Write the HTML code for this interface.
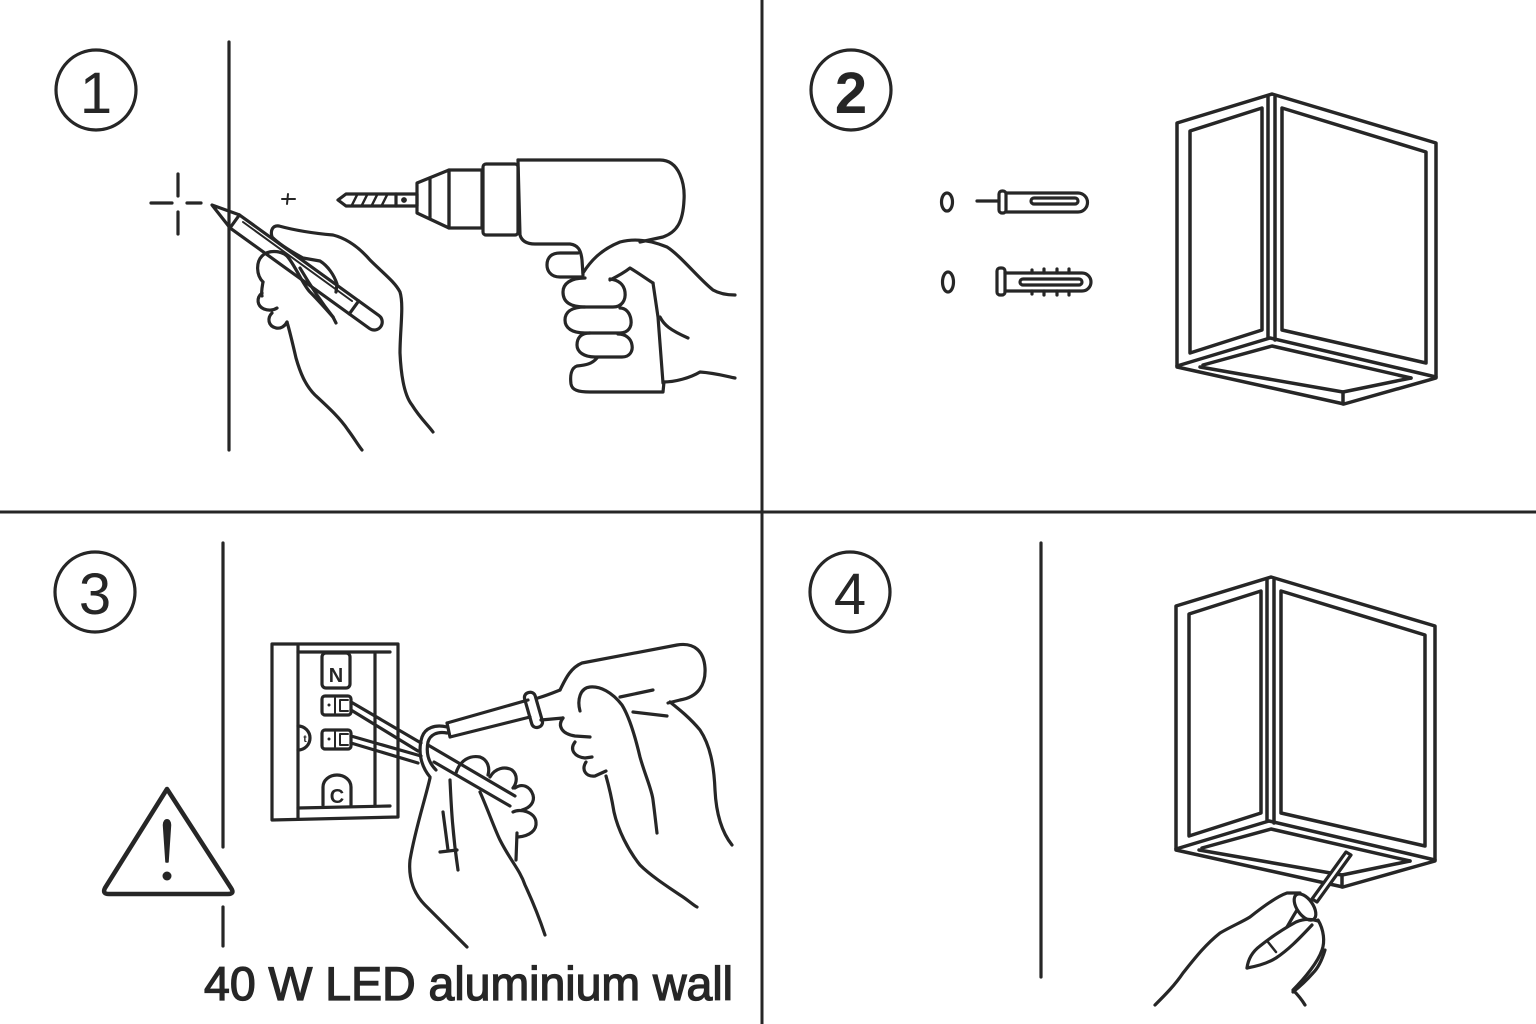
<!DOCTYPE html>
<html>
<head>
<meta charset="utf-8">
<style>
html,body{margin:0;padding:0;background:#fff;}
svg{display:block;}
</style>
</head>
<body>
<svg width="1536" height="1024" viewBox="0 0 1536 1024" xmlns="http://www.w3.org/2000/svg">
<rect width="1536" height="1024" fill="#fff"/>
<g fill="none" stroke="#262626" stroke-width="3.2" stroke-linecap="round" stroke-linejoin="round">
  <!-- grid -->
  <line x1="762" y1="0" x2="762" y2="1024" stroke-width="3"/>
  <line x1="0" y1="512" x2="1536" y2="512" stroke-width="3"/>

  <!-- number circles -->
  <circle cx="96" cy="90" r="40"/>
  <circle cx="851" cy="90" r="40"/>
  <circle cx="95" cy="592" r="40"/>
  <circle cx="850" cy="592" r="40"/>

  <!-- ================= PANEL 1 ================= -->
  <line x1="229" y1="42" x2="229" y2="450"/>
  <!-- crosshair -->
  <line x1="151" y1="203" x2="172" y2="203"/>
  <line x1="187" y1="203" x2="201" y2="203"/>
  <line x1="178" y1="174" x2="178" y2="196"/>
  <line x1="178" y1="212" x2="178" y2="234"/>
  <!-- small plus -->
  <line x1="282" y1="199" x2="295" y2="199" stroke-width="2"/>
  <line x1="288" y1="194" x2="287" y2="204" stroke-width="2"/>

  <!-- pencil -->
  <path d="M212,205 L239.4,214.9 L378.9,315.5 A8,8 0 0 1 369.5,328.5 L230,227.9 Z"/>
  <path d="M239.4,214.9 L230,227.9"/>
  <path d="M358.7,300.9 L349.3,313.9"/>
  <path d="M243,222 L352,301" stroke-width="2"/>
  <!-- pencil hand -->
  <path d="M272,237 C270,230 273,225 279,226 C290,229 310,233 333,235 C345,238 357,245 370,260 C383,273 395,282 400,292 C404,305 400,330 400,353 C401,375 404,395 412,405 C420,418 428,425 433,432"/>
  <path d="M272,237 C280,245 292,252 303,258 L320,261 C328,266 334,275 337,284 L336,292"/>
  <path d="M300,268 C310,285 322,303 333,317 L336,323"/>
  <path d="M263,282 C256,275 256,262 262,256 C268,250 280,250 287,256 C295,265 303,285 310,292 C318,300 325,308 333,317"/>
  <path d="M263,282 C262,288 261,292 262,296"/>
  <path d="M262,293 C256,298 257,306 264,309 C269,311 274,310 277,308"/>
  <path d="M272,313 C267,318 268,326 276,328 C281,329 285,326 287,322"/>
  <path d="M287,322 C290,332 293,345 296,358 C300,372 305,385 315,395 C328,407 340,418 348,430 C354,438 358,445 362,450"/>

  <!-- drill -->
  <path d="M338,200 L346,194 L417,194 L417,206 L346,206 Z"/>
  <path d="M352,205 L357,195 M362,205 L367,195 M372,205 L377,195 M382,205 L387,195" stroke-width="2.5"/>
  <line x1="396" y1="194" x2="396" y2="206"/>
  <circle cx="404" cy="200" r="1.3" fill="#262626"/>
  <path d="M417,183 L449,170 L449,228 L417,213 Z"/>
  <line x1="430" y1="178" x2="430" y2="218"/>
  <rect x="449" y="170" width="33" height="58"/>
  <rect x="483" y="164" width="35" height="71" rx="3"/>
  <path d="M518,160 L660,160 C680,160 685,185 684,200 C683,222 677,232 663,237 L640,242"/>
  <path d="M518,160 L520,235 C522,242 528,244 535,244 L570,244 C578,245 581,250 582,260 L583,275"/>
  <!-- trigger finger -->
  <path d="M583,277 L560,277 C550,277 547,270 547,265 C547,257 552,253 560,253 L578,253"/>
  <!-- fist fingers -->
  <path d="M585,278 C570,278 563,284 563,292 C563,302 570,307 585,307 L613,307 C622,307 626,300 625,292 C624,284 618,280 610,279"/>
  <path d="M585,307 C570,307 565,313 565,320 C565,328 572,333 585,333 L620,333 C628,333 632,327 631,320 C630,312 625,308 620,308"/>
  <path d="M590,333 C580,333 577,339 577,345 C577,352 584,357 595,357 L622,357 C630,357 633,351 632,345 C631,338 625,334 618,334"/>
  <path d="M597,358 C592,364 586,365 577,366 C571,368 570,376 571,384 C572,390 578,392 590,392 L663,392 L664,382"/>
  <path d="M653,283 L658,317 L663,383"/>
  <path d="M610,280 C618,276 625,272 630,268 C640,274 648,280 653,283"/>
  <path d="M583,273 C590,262 600,250 620,242 C635,238 650,240 667,247 C680,255 700,280 713,290 C720,294 728,295 735,295"/>
  <path d="M660,317 C664,325 670,330 688,338"/>
  <path d="M663,382 C675,382 690,378 700,372 C715,373 725,376 735,378"/>

  <!-- ================= PANEL 2 ================= -->
  <ellipse cx="947" cy="202" rx="5.5" ry="9"/>
  <ellipse cx="948" cy="282" rx="5.5" ry="10"/>
  <line x1="977" y1="201" x2="999" y2="201"/>
  <rect x="999" y="191" width="7" height="22" rx="3"/>
  <path d="M1006,193 L1078,193 A9.5,9.5 0 0 1 1078,212 L1006,212"/>
  <rect x="1031" y="198" width="47" height="6" rx="3"/>
  <rect x="997" y="268" width="8" height="27" rx="3"/>
  <path d="M1005,273 L1082,273 A9,9 0 0 1 1082,291 L1005,291"/>
  <rect x="1020" y="279" width="62" height="6" rx="3"/>
  <path d="M1032,270 L1032,273 M1044,269 L1044,273 M1057,269 L1057,273 M1069,269 L1069,273 M1032,291 L1032,294 M1044,291 L1044,295 M1057,291 L1057,295 M1069,291 L1069,295"/>

  <!-- lamp -->
  <g id="lamp" stroke-width="3.5">
    <path d="M1177,123 L1272,94 L1436,143 L1436,378 L1344,404 L1177,367 Z"/>
    <line x1="1268" y1="97" x2="1268" y2="338"/>
    <line x1="1275" y1="97" x2="1275" y2="340"/>
    <path d="M1190,131 L1262,108 L1262,330 L1190,353 Z"/>
    <path d="M1282,108 L1426,152 L1426,363 L1282,330 Z"/>
    <path d="M1177,366 L1270,338 L1436,377"/>
    <path d="M1203,365 L1272,346 L1411,378"/>
    <path d="M1200,367 L1343,392 L1411,378"/>
    <path d="M1343,392 L1343,404"/>
  </g>

  <!-- ================= PANEL 3 ================= -->
  <line x1="223" y1="543" x2="223" y2="847"/>
  <line x1="223" y1="907" x2="223" y2="946"/>
  <!-- warning -->
  <path d="M167,789 L105,888 Q102,894 109,894 L228,894 Q235,894 231,888 Z" stroke-width="4.5"/>
  <path d="M163.5,825 C163.5,818 170.5,818 170.5,825 L168,862 L166,862 Z" fill="#262626" stroke-width="1.5"/>
  <circle cx="167" cy="876" r="4.5" fill="#262626" stroke="none"/>

  <!-- wall box -->
  <path d="M272,644 L398,644 L398,817 L272,820 Z"/>
  <line x1="298" y1="646" x2="298" y2="819"/>
  <line x1="298" y1="652" x2="390" y2="652"/>
  <line x1="375" y1="654" x2="375" y2="806"/>
  <line x1="298" y1="808" x2="390" y2="806"/>
  <rect x="322" y="653" width="28" height="35" rx="4"/>
  <rect x="322" y="696" width="29" height="19" rx="3"/>
  <line x1="335" y1="698" x2="335" y2="713" stroke-width="2"/>
  <circle cx="329" cy="705" r="1.5" fill="#262626" stroke="none"/>
  <path d="M340,700 L348,700 M340,711 L348,711 M340,700 L340,711" stroke-width="2"/>
  <rect x="322" y="730" width="29" height="19" rx="3"/>
  <line x1="335" y1="732" x2="335" y2="747" stroke-width="2"/>
  <circle cx="329" cy="739" r="1.5" fill="#262626" stroke="none"/>
  <path d="M340,734 L348,734 M340,745 L348,745 M340,734 L340,745" stroke-width="2"/>
  <path d="M298,726 A12,12 0 0 1 298,750"/>
  <path d="M323,805 L323,787 A14,12 0 0 1 351,787 L351,805"/>
  <!-- wires -->
  <path d="M351,702 L421,743"/>
  <path d="M351,710 L418,751"/>
  <path d="M351,736 L421,756"/>
  <path d="M351,743 L418,763"/>
  <!-- hook / held wire -->
  <path d="M447,727 C435,724 425,728 422,737 C418,750 420,765 430,777"/>
  <path d="M447,733 C437,731 430,735 428,742 C426,752 428,762 436,770"/>
  <path d="M428,745 L515,796"/>
  <path d="M434,762 L510,806"/>
  <!-- screwdriver -->
  <path d="M447,723 L528,700 M450,737 L530,717 M447,723 L450,737"/>
  <rect x="528" y="692" width="11" height="36" rx="5" transform="rotate(-16 533 710)"/>
  <path d="M538,698 C548,695 555,692 560,690"/>
  <path d="M541,720 L563,718"/>
  <path d="M560,690 C565,680 570,668 582,663 L677,645 C695,642 704,652 705,668 C706,685 698,697 680,700 L668,703"/>
  <!-- right hand -->
  <path d="M580,711 C577,700 580,688 590,687 C600,686 612,692 622,705 C630,718 636,740 640,757 C645,775 652,790 653,800 C655,815 656,825 657,833"/>
  <path d="M563,718 C557,726 562,734 575,736 L590,737"/>
  <path d="M575,742 C569,750 575,757 585,758 L592,757"/>
  <path d="M586,762 C581,770 586,777 595,776 L606,771"/>
  <path d="M606,776 C610,790 612,800 614,812 C618,830 628,850 640,865 C650,875 665,885 680,895 C688,900 693,905 697,907"/>
  <path d="M620,697 L653,690"/>
  <path d="M633,712 L667,716"/>
  <path d="M670,702 C680,710 690,718 700,730 C710,745 714,765 715,790 C716,810 720,830 732,845"/>
  <!-- left hand -->
  <path d="M456,773 C460,760 470,755 480,757 C488,760 490,768 488,775"/>
  <path d="M490,777 C495,768 505,766 512,770 C518,775 517,783 513,788"/>
  <path d="M515,788 C522,783 530,786 533,795 C535,802 530,808 522,810"/>
  <path d="M513,812 C520,808 535,812 536,822 C537,830 530,836 518,837"/>
  <path d="M430,778 C425,800 415,830 410,860 C408,880 415,895 425,905 C440,920 455,935 467,947"/>
  <path d="M450,780 C451,800 452,830 458,870"/>
  <path d="M480,792 C488,810 495,830 500,840 C510,860 520,870 525,885 C532,900 540,920 545,935"/>
  <path d="M517,833 L516,860"/>
  <path d="M443,812 L448,850 M440,852 L457,850"/>

  <!-- ================= PANEL 4 ================= -->
  <line x1="1041" y1="543" x2="1041" y2="977"/>
  <use href="#lamp" transform="translate(-1,483)"/>
  <!-- screwdriver -->
  <path d="M1346,852 L1351,855 L1317,902 L1312,899 Z" fill="#fff"/>
  <ellipse cx="1305" cy="907" rx="8" ry="15" transform="rotate(-35 1305 907)" fill="#fff"/>
  <!-- hand -->
  <path d="M1155,1005 C1165,995 1175,985 1183,973 C1195,958 1205,945 1220,933 C1232,926 1242,922 1250,917 C1265,905 1278,896 1287,893 L1300,893"/>
  <path d="M1318,920 C1324,930 1325,942 1322,950 C1318,962 1305,978 1293,990 C1298,995 1302,1000 1305,1005"/>
  <path d="M1247,968 C1248,960 1252,952 1260,946 C1270,938 1285,928 1296,922 C1305,918 1312,919 1318,921"/>
  <path d="M1247,968 C1258,966 1268,963 1276,958 C1288,950 1298,940 1312,925"/>
  <path d="M1268,942 L1276,952" stroke-width="2.5"/>
  <path d="M1297,910 C1292,918 1290,922 1287,927"/>
  <path d="M1325,950 C1322,960 1318,968 1313,973 C1305,982 1298,988 1293,992"/>
</g>

<!-- numbers -->
<g font-family="'Liberation Sans', sans-serif" fill="#262626" text-anchor="middle">
  <text x="96" y="113" font-size="58">1</text>
  <text x="851" y="113" font-size="58" font-weight="bold">2</text>
  <text x="95" y="614" font-size="58">3</text>
  <text x="850" y="614" font-size="58">4</text>
  <text x="336" y="682" font-size="20" font-weight="bold">N</text>
  <text x="337" y="803" font-size="20" font-weight="bold">C</text>
  <text x="305" y="742" font-size="10" font-weight="bold">t</text>
</g>
<text x="204" y="1000" font-family="'Liberation Sans', sans-serif" font-size="47" fill="#262626" stroke="#262626" stroke-width="1.3" textLength="529" lengthAdjust="spacingAndGlyphs">40 W LED aluminium wall</text>
</svg>
</body>
</html>
